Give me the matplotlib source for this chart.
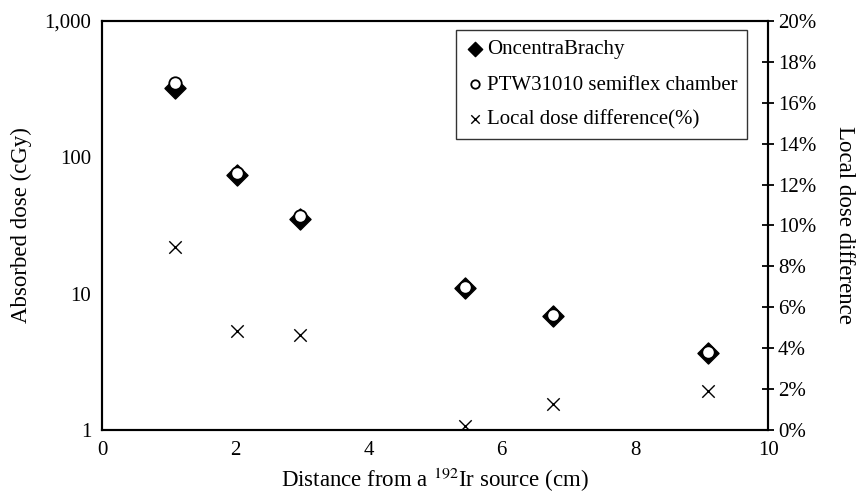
import matplotlib
matplotlib.use("Agg")
import matplotlib.pyplot as plt
from matplotlib.ticker import FixedLocator, FuncFormatter, NullLocator

plt.rcParams['font.family'] = ['Liberation Serif', 'DejaVu Serif']
plt.rcParams['mathtext.fontset'] = 'stix'

# data
distance = [1.1, 2.03, 2.97, 5.45, 6.77, 9.1]
dose_oncentra = [323, 74, 35.5, 11.0, 6.9, 3.7]
dose_ptw = [352, 76, 37, 11.1, 7.0, 3.75]
local_diff = [8.95, 4.85, 4.65, 0.2, 1.27, 1.9]

fig = plt.figure(figsize=(8.66, 4.96), dpi=100)
ax = fig.add_axes([0.118, 0.133, 0.769, 0.825])
ax2 = ax.twinx()

ax.scatter(distance, dose_oncentra, marker='D', s=115, color='black', zorder=3,
           label='OncentraBrachy')
ax.scatter(distance, dose_ptw, marker='o', s=80, facecolor='white', edgecolor='black',
           linewidths=1.3, zorder=4, label='PTW31010 semiflex chamber')
ax2.scatter(distance, local_diff, marker='x', s=80, color='black', linewidths=1.0,
            label='Local dose difference(%)')

ax.set_yscale('log')
ax.set_ylim(1, 1000)
ax.set_xlim(0, 10)
ax.xaxis.set_major_locator(FixedLocator([0, 2, 4, 6, 8, 10]))
ax.yaxis.set_major_locator(FixedLocator([1, 10, 100, 1000]))
ax.yaxis.set_minor_locator(NullLocator())
ax.yaxis.set_major_formatter(FuncFormatter(lambda v, p: f"{v:,.0f}"))
ax.tick_params(axis='both', length=0, labelsize=15, pad=8)

ax2.set_ylim(0, 20)
ax2.yaxis.set_major_locator(FixedLocator(range(0, 21, 2)))
ax2.yaxis.set_major_formatter(FuncFormatter(lambda v, p: f"{v:.0f}%"))
ax2.tick_params(axis='y', direction='inout', length=8, width=1.3, labelsize=15, pad=3)

for a in (ax, ax2):
    for s in a.spines.values():
        s.set_linewidth(1.5)

ax.set_xlabel('Distance from a $^{192}$Ir source (cm)', fontsize=16.5, labelpad=4)
ax.set_ylabel('Absorbed dose (cGy)', fontsize=16.5, labelpad=8.5)
ax2.set_ylabel('Local dose difference', fontsize=16.5, rotation=-90, labelpad=28)

h1, l1 = ax.get_legend_handles_labels()
h2, l2 = ax2.get_legend_handles_labels()
leg = ax2.legend(h1 + h2, l1 + l2, loc='upper right', bbox_to_anchor=(0.978, 0.992),
                 fontsize=15, frameon=True, fancybox=False, edgecolor='black',
                 handletextpad=0.15, handlelength=0.9, labelspacing=0.75,
                 markerscale=0.68, borderpad=0.45, borderaxespad=0.3)
leg.get_frame().set_linewidth(1.0)

fig.savefig('out.png', dpi=100)
